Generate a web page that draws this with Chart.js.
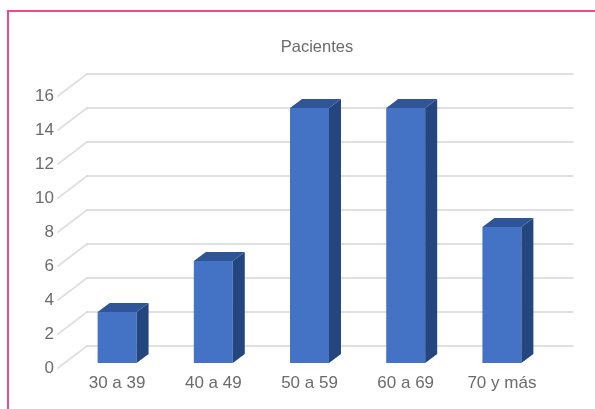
<!DOCTYPE html>
<html>
<head>
<meta charset="utf-8">
<style>
  html, body { margin: 0; padding: 0; background: #ffffff; }
  #wrap { width: 595px; height: 409px; position: relative; }
</style>
<script src="https://cdn.jsdelivr.net/npm/chart.js@4/dist/chart.umd.min.js"></script>
</head>
<body>
<div id="wrap"><canvas id="chart" width="595" height="409"></canvas></div>
<script>
// Patients by age group
const categories = ['30 a 39', '40 a 49', '50 a 59', '60 a 69', '70 y más'];
const pacientes = [3, 6, 15, 15, 8];
const tickValues = [0, 2, 4, 6, 8, 10, 12, 14, 16];
const titleText = 'Pacientes';

const FONT = '"Liberation Sans", Arial, sans-serif';
const TEXT = '#6b6b6b';

// depth offsets for the pseudo-3D look
const WALL_DX = 18, WALL_DY = 17;   // back wall behind the bar faces
const BAR_DX = 12, BAR_DY = 9;      // bar depth
const FRONT_DX = -11, FRONT_DY = 5; // front edge of the floor/side wall

const frame3d = {
  id: 'frame3d',
  beforeDraw(chart) {
    const ctx = chart.ctx;
    ctx.save();
    // outer frame
    ctx.strokeStyle = '#f0498a';
    ctx.lineWidth = 2;
    ctx.beginPath();
    ctx.moveTo(8, 409);
    ctx.lineTo(8, 11);
    ctx.lineTo(595, 11);
    ctx.stroke();
    // title
    ctx.fillStyle = TEXT;
    ctx.font = '16.5px ' + FONT;
    ctx.textAlign = 'center';
    ctx.textBaseline = 'middle';
    ctx.fillText(titleText, 317, 47);
    ctx.restore();
  },
  beforeDatasetsDraw(chart) {
    const ctx = chart.ctx;
    const y = chart.scales.y;
    const area = chart.chartArea;
    const x0 = area.left;
    ctx.save();
    ctx.lineCap = 'round';
    tickValues.forEach(v => {
      const py = y.getPixelForValue(v);
      // side wall diagonal
      ctx.strokeStyle = '#e0e0e0';
      ctx.lineWidth = 2;
      ctx.beginPath();
      ctx.moveTo(x0 + FRONT_DX, py + FRONT_DY);
      ctx.lineTo(x0 + WALL_DX, py - WALL_DY);
      ctx.stroke();
      // back wall gridline
      ctx.strokeStyle = '#d6d6d6';
      ctx.lineWidth = 1.5;
      ctx.beginPath();
      ctx.moveTo(x0 + WALL_DX, py - WALL_DY);
      ctx.lineTo(area.right + 23, py - WALL_DY);
      ctx.stroke();
    });
    ctx.restore();
  },
  afterDatasetsDraw(chart) {
    const ctx = chart.ctx;
    const meta = chart.getDatasetMeta(0);
    ctx.save();
    meta.data.forEach(bar => {
      const p = bar.getProps(['x', 'y', 'base', 'width'], true);
      const l = p.x - p.width / 2, r = p.x + p.width / 2;
      const t = p.y, b = p.base;
      // side face
      ctx.fillStyle = '#24467f';
      ctx.beginPath();
      ctx.moveTo(r, t);
      ctx.lineTo(r + BAR_DX, t - BAR_DY);
      ctx.lineTo(r + BAR_DX, b - BAR_DY);
      ctx.lineTo(r, b);
      ctx.closePath();
      ctx.fill();
      // top face
      ctx.fillStyle = '#2f5597';
      ctx.beginPath();
      ctx.moveTo(l, t);
      ctx.lineTo(r, t);
      ctx.lineTo(r + BAR_DX, t - BAR_DY);
      ctx.lineTo(l + BAR_DX, t - BAR_DY);
      ctx.closePath();
      ctx.fill();
    });
    ctx.restore();
  }
};

new Chart(document.getElementById('chart'), {
  type: 'bar',
  data: {
    labels: categories,
    datasets: [{
      label: titleText,
      data: pacientes,
      backgroundColor: '#4472c4',
      borderWidth: 0,
      categoryPercentage: 1,
      barPercentage: 0.405
    }]
  },
  options: {
    responsive: false,
    animation: false,
    devicePixelRatio: 1,
    layout: { padding: { top: 91, right: 45, bottom: 0, left: 0 } },
    plugins: {
      legend: { display: false },
      title: { display: false },
      tooltip: { enabled: false }
    },
    scales: {
      x: {
        grid: { display: false },
        border: { display: false },
        ticks: {
          color: TEXT,
          font: { family: FONT, size: 17 },
          padding: 2,
          maxRotation: 0
        },
        afterFit(scale) { scale.height = 46; }
      },
      y: {
        min: 0,
        max: 16,
        grid: { display: false, drawTicks: false },
        border: { display: false },
        ticks: {
          stepSize: 2,
          color: TEXT,
          font: { family: FONT, size: 17 },
          padding: 15,
          labelOffset: 5
        },
        afterFit(scale) { scale.width = 69; }
      }
    }
  },
  plugins: [frame3d]
});
</script>
</body>
</html>
